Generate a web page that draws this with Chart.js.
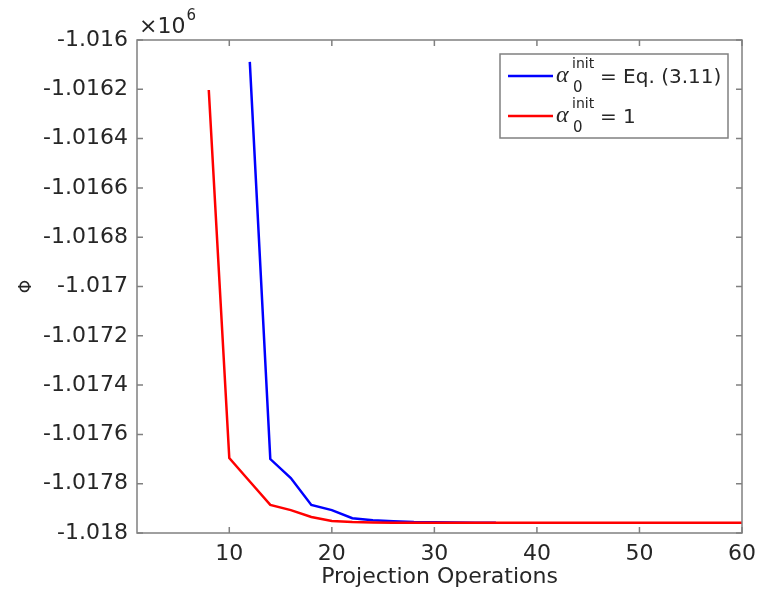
<!DOCTYPE html>
<html><head><meta charset="utf-8">
<script src="https://cdn.jsdelivr.net/npm/chart.js@4.4.1/dist/chart.umd.min.js"></script>
<style>html,body{margin:0;padding:0;background:#fff}canvas{display:block}</style>
</head><body>
<canvas id="c" width="758" height="597"></canvas>
<script>
// ---- data (values in units of 10^6) ----
const redX  = [8,10,12,14,16,18,20,22,24,26,28,30,32,34,36,38,40,42,44,46,48,50,52,54,56,58,60];
const redY  = [-1.016203,-1.017696,-1.017791,-1.017886,-1.017907,-1.017935,-1.017951,-1.017955,-1.017957,
               -1.017958,-1.017958,-1.017958,-1.017958,-1.017958,-1.017958,-1.017958,-1.017958,-1.017958,
               -1.017958,-1.017958,-1.017958,-1.017958,-1.017958,-1.017958,-1.017958,-1.017958,-1.017958];
const blueX = [12,14,16,18,20,22,24,26,28,30,32,34,36];
const blueY = [-1.016089,-1.017700,-1.017777,-1.017886,-1.017907,-1.017940,-1.017948,-1.017952,
               -1.017955,-1.017956,-1.017957,-1.017958,-1.017958];
const xTicks = [10,20,30,40,50,60];
const xTickLabels = ['10','20','30','40','50','60'];
const yTicks = [-1.018,-1.0178,-1.0176,-1.0174,-1.0172,-1.017,-1.0168,-1.0166,-1.0164,-1.0162,-1.016];
const yTickLabels = ['-1.018','-1.0178','-1.0176','-1.0174','-1.0172','-1.017','-1.0168','-1.0166','-1.0164','-1.0162','-1.016'];
const legendLabels = ['= Eq. (3.11)', '= 1'];
const xTitle = 'Projection Operations';
const yTitle = 'Φ';
const exponentBase = '×10';
const exponentPower = '6';

const FONT = "'DejaVu Sans', sans-serif";
const TXT = '#262626';
const AXC = '#808080';

const boxTicks = {
  id: 'boxTicks',
  afterDatasetsDraw(chart) {
    const {ctx, chartArea: a, scales: {x, y}} = chart;
    ctx.save();
    ctx.strokeStyle = AXC;
    ctx.lineWidth = 1.5;
    ctx.strokeRect(a.left, a.top, a.right - a.left, a.bottom - a.top);
    const L = 6;
    ctx.beginPath();
    xTicks.forEach(v => {
      const px = x.getPixelForValue(v);
      ctx.moveTo(px, a.bottom); ctx.lineTo(px, a.bottom - L);
      ctx.moveTo(px, a.top); ctx.lineTo(px, a.top + L);
    });
    yTicks.forEach(v => {
      const py = y.getPixelForValue(v);
      ctx.moveTo(a.left, py); ctx.lineTo(a.left + L, py);
      ctx.moveTo(a.right, py); ctx.lineTo(a.right - L, py);
    });
    ctx.stroke();
    // exponent label
    ctx.fillStyle = TXT;
    ctx.textBaseline = 'alphabetic';
    ctx.textAlign = 'left';
    ctx.font = "22px " + FONT;
    ctx.fillText(exponentBase, a.left + 2, a.top - 7);
    const w = ctx.measureText(exponentBase).width;
    ctx.font = "15px " + FONT;
    ctx.fillText(exponentPower, a.left + 3 + w, a.top - 20);
    ctx.restore();
  }
};

const mLegend = {
  id: 'mLegend',
  afterDraw(chart) {
    const {ctx, chartArea: a} = chart;
    const bx = a.right - 242, by = a.top + 14, bw = 228, bh = 84;
    ctx.save();
    ctx.fillStyle = '#fff';
    ctx.fillRect(bx, by, bw, bh);
    ctx.strokeStyle = AXC;
    ctx.lineWidth = 1.5;
    ctx.strokeRect(bx, by, bw, bh);
    const ds = chart.data.datasets;
    ds.forEach((d, i) => {
      const ry = by + 22 + i * 40;
      ctx.strokeStyle = d.borderColor;
      ctx.lineWidth = 2.5;
      ctx.beginPath();
      ctx.moveTo(bx + 8, ry); ctx.lineTo(bx + 53, ry);
      ctx.stroke();
      ctx.fillStyle = TXT;
      ctx.textAlign = 'left';
      ctx.textBaseline = 'alphabetic';
      ctx.font = "italic 24px 'Liberation Serif', serif";
      ctx.fillText('α', bx + 56, ry + 6);
      ctx.font = "14px " + FONT;
      ctx.fillText('init', bx + 72, ry - 8);
      ctx.font = "15px " + FONT;
      ctx.fillText('0', bx + 73, ry + 16);
      ctx.font = "20px " + FONT;
      ctx.fillText(legendLabels[i], bx + 100, ry + 7);
    });
    ctx.restore();
  }
};

new Chart(document.getElementById('c'), {
  type: 'line',
  data: {
    datasets: [
      { label: legendLabels[0], data: blueX.map((v, i) => ({x: v, y: blueY[i]})),
        borderColor: '#0000ff', borderWidth: 2.5, pointRadius: 0, tension: 0, order: 1, fill: false },
      { label: legendLabels[1], data: redX.map((v, i) => ({x: v, y: redY[i]})),
        borderColor: '#ff0000', borderWidth: 2.5, pointRadius: 0, tension: 0, order: 0, fill: false }
    ]
  },
  options: {
    responsive: false,
    animation: false,
    events: [],
    layout: { padding: { top: 40, right: 16, left: 0, bottom: 0 } },
    plugins: { legend: { display: false }, tooltip: { enabled: false } },
    scales: {
      x: {
        type: 'linear', min: 1, max: 60,
        afterBuildTicks: s => { s.ticks = xTicks.map(v => ({value: v})); },
        afterFit: s => { s.height = 64; s.paddingLeft = 0; s.paddingRight = 0; },
        ticks: { callback: (v, i) => xTickLabels[i], font: {family: FONT, size: 22}, color: TXT,
                 padding: 8, maxRotation: 0, autoSkip: false },
        grid: { display: false, drawTicks: false },
        border: { display: false },
        title: { display: true, text: xTitle, font: {family: FONT, size: 22}, color: TXT,
                 padding: {top: 0, bottom: 7} }
      },
      y: {
        type: 'linear', min: -1.018, max: -1.016,
        afterBuildTicks: s => { s.ticks = yTicks.map(v => ({value: v})); },
        afterFit: s => { s.width = 137; s.paddingTop = 0; s.paddingBottom = 0; },
        ticks: { callback: (v, i) => yTickLabels[i], font: {family: FONT, size: 22}, color: TXT,
                 padding: 9, autoSkip: false },
        grid: { display: false, drawTicks: false },
        border: { display: false },
        title: { display: true, text: yTitle, font: {family: FONT, size: 17}, color: TXT,
                 padding: {top: 16, bottom: 0} }
      }
    }
  },
  plugins: [boxTicks, mLegend]
});
</script>
</body></html>
